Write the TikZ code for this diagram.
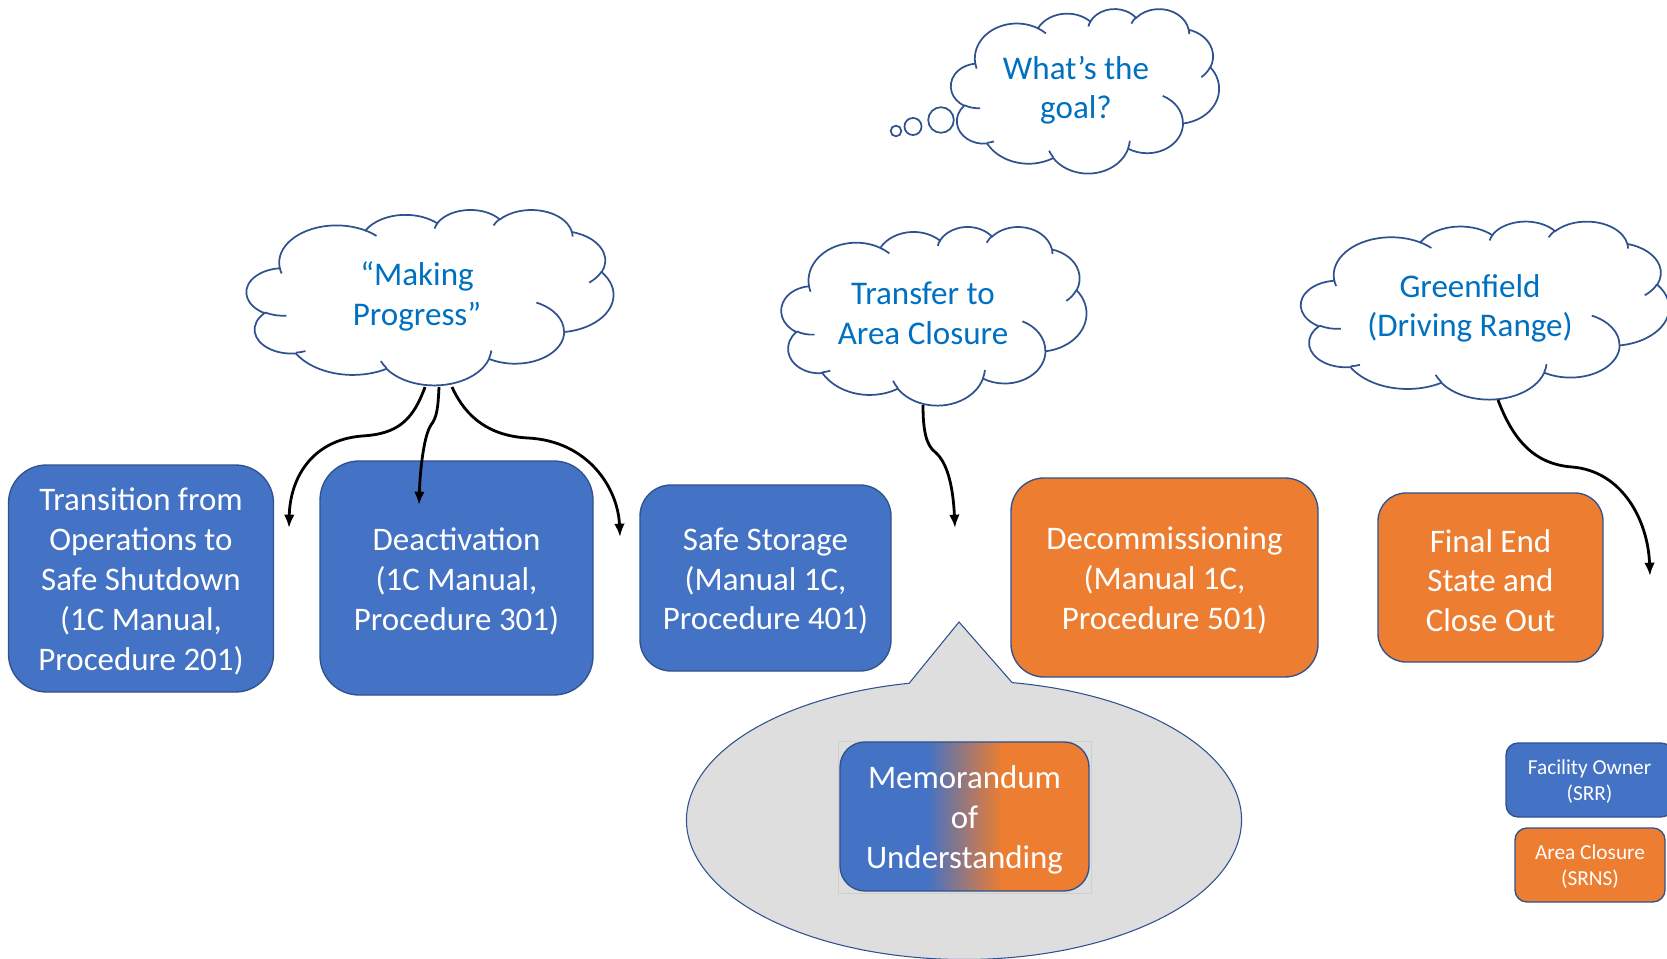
\documentclass[tikz,border=0pt]{standalone}
\usepackage{fontspec}
\setmainfont{Carlito}
\usetikzlibrary{arrows.meta}
\definecolor{boxblue}{HTML}{4472C4}
\definecolor{boxorange}{HTML}{ED7D31}
\definecolor{edge}{HTML}{2F528F}
\definecolor{cloudtext}{HTML}{0070C0}
\definecolor{calloutgray}{HTML}{DEDEDE}
\definecolor{framegray}{HTML}{CFCFCF}
\pgfdeclarehorizontalshading{memoshade}{100bp}{color(0bp)=(boxblue); color(42.5bp)=(boxblue); color(57.5bp)=(boxorange); color(100bp)=(boxorange)}
% OOXML-style arc: wR hR stAng swAng (visual angles, degrees)
\newcommand\ooarc[4]{%
  \pgfmathsetmacro\ooA{atan2((#1)*sin(#3),(#2)*cos(#3))}%
  \pgfmathsetmacro\ooB{atan2((#1)*sin((#3)+(#4)),(#2)*cos((#3)+(#4)))}%
  \pgfmathsetmacro\ooD{\ooB-\ooA}%
  \pgfmathsetmacro\ooD{\ooD-360*floor((\ooD-(#4)+180)/360)}%
  \pgfmathsetmacro\ooB{\ooA+\ooD}%
  \pgfpatharc{\ooA}{\ooB}{#1pt and #2pt}%
}
\newcommand\oomove[2]{\pgfpathmoveto{\pgfpoint{#1pt}{#2pt}}}
\newcommand\ppcloud[4]{% left top width height (px)
  \begin{scope}[shift={(#1,#2)},xscale={0.75*#3/432},yscale={-0.75*#4/432}]
    \begin{pgfscope}
      \pgfsetlinewidth{1.3pt}\pgfsetstrokecolor{edge}\pgfsetfillcolor{white}%
      \oomove{39.00}{143.70}%
      \ooarc{67.53}{91.90}{-190.48748}{123.78053}%
      \ooarc{53.33}{72.67}{-144.10238}{89.94523}%
      \ooarc{43.65}{59.45}{-145.80792}{99.72302}%
      \ooarc{48.57}{65.95}{-130.98607}{117.24173}%
      \ooarc{53.33}{72.73}{-78.70888}{109.02692}%
      \ooarc{67.75}{92.20}{-46.26725}{130.269}%
      \ooarc{57.85}{78.67}{0.62502}{114.03333}%
      \ooarc{67.52}{92.15}{22.4516}{115.17255}%
      \ooarc{77.20}{105.43}{66.24263}{75.71102}%
      \ooarc{43.60}{59.18}{-274.94208}{146.73557}%
      \ooarc{43.45}{59.45}{-246.8285}{152.51885}%
      \pgfpathclose
      \pgfusepath{fill,stroke}%
      \oomove{46.93}{261.77}\ooarc{43.45}{59.45}{86.742}{26.4295}%
      \oomove{69.28}{348.99}\ooarc{43.60}{59.18}{73.61047}{11.44747}%
      \oomove{164.78}{390.90}\ooarc{67.52}{92.15}{137.62415}{14.0811}%
      \oomove{288.27}{347.51}\ooarc{67.52}{92.15}{6.45327}{15.99835}%
      \oomove{341.29}{229.54}\ooarc{57.85}{78.67}{-70.29235}{70.91737}%
      \oomove{417.98}{153.54}\ooarc{53.33}{72.73}{30.31803}{27.7515}%
      \oomove{383.24}{54.26}\ooarc{48.57}{65.95}{-13.74433}{14.8589}%
      \oomove{290.78}{39.52}\ooarc{48.57}{65.95}{-149.18145}{18.19537}%
      \oomove{221.41}{47.20}\ooarc{43.65}{59.45}{-163.49427}{17.68635}%
      \oomove{140.00}{51.92}\ooarc{67.53}{91.90}{-66.70695}{12.31935}%
      \oomove{41.27}{157.89}\ooarc{67.53}{91.90}{157.65435}{11.85393}%
      \pgfusepath{stroke}%
    \end{pgfscope}
  \end{scope}
}
\tikzset{
  procbox/.style={draw=edge, line width=1pt, inner sep=0pt},
  bluebox/.style={procbox, fill=boxblue},
  orangebox/.style={procbox, fill=boxorange},
  boxtext/.style={text=white, align=center, inner sep=0pt,
    font=\fontsize{24.7}{29.9}\selectfont},
  legendtext/.style={text=white, align=center, inner sep=0pt,
    font=\fontsize{16}{19.2}\selectfont},
  cloudlabel/.style={text=cloudtext, align=center, inner sep=0pt,
    font=\fontsize{24.8}{29.6}\selectfont},
  bubble/.style={draw=edge, line width=1.3pt, fill=white},
  flow/.style={line width=2.1pt, -{Latex[length=10pt,width=8pt]}},
}
\begin{document}
\begin{tikzpicture}[x=0.75pt,y=-0.75pt]
\useasboundingbox (0,0) rectangle (1667,959);
\clip (0,0) rectangle (1667,959);

% clouds
\ppcloud{951}{8.5}{268}{164.5}
\ppcloud{246.6}{209.4}{366.8}{175.4}
\ppcloud{781.4}{226.4}{305}{178.6}
\ppcloud{1301}{221}{368}{178}
\draw[bubble] (896,131) circle[radius=4pt];
\draw[bubble] (913,126.5) circle[radius=6.4pt];
\draw[bubble] (941,120) circle[radius=9.6pt];

\node[cloudlabel] (goal) at (1076,90) {What’s the\\goal?};
\node[cloudlabel] (progress) at (417,296.5) {“Making\\Progress”};
\node[cloudlabel] (transfer) at (923,313.5) {Transfer to\\Area Closure};
\node[cloudlabel] (green) at (1470,308.5) {Greenfield\\(Driving Range)};

% stage boxes
\node[bluebox, minimum width=198.75pt, minimum height=170.25pt, rounded corners=28.5pt] (trans) at (141,578.5) {};
\node[boxtext] (transtxt) at ([yshift=-2.3pt]trans.center)
  {Transition from\\Operations to\\Safe Shutdown\\(1C Manual,\\Procedure 201)};
\node[bluebox, minimum width=204.75pt, minimum height=175.5pt, rounded corners=29.25pt] (deact) at (456.5,578) {};
\node[boxtext] (deacttxt) at ([yshift=-2.3pt]deact.center)
  {Deactivation\\(1C Manual,\\Procedure 301)};
\node[bluebox, minimum width=188.25pt, minimum height=139.5pt, rounded corners=23.25pt] (safe) at (765.5,578) {};
\node[boxtext] (safetxt) at ([yshift=-2.3pt]safe.center)
  {Safe Storage\\(Manual 1C,\\Procedure 401)};
\node[orangebox, minimum width=230.25pt, minimum height=149.25pt, rounded corners=24.75pt] (decom) at (1164.5,577.5) {};
\node[boxtext] (decomtxt) at ([yshift=-2.3pt]decom.center)
  {Decommissioning\\(Manual 1C,\\Procedure 501)};
\node[orangebox, minimum width=168.75pt, minimum height=126.75pt, rounded corners=21pt] (final) at (1490.5,577.5) {};
\node[boxtext] (finaltxt) at ([yshift=-2.3pt]final.center)
  {Final End\\State and\\Close Out};

% callout
\coordinate (ellc) at (964,820);
\coordinate (tip) at (959,622);
\draw[draw=edge, line width=0.8pt, fill=calloutgray]
  (ellc) ++(80:208.125pt and 104.625pt)
  arc[start angle=80, end angle=-258.6, x radius=208.125pt, y radius=104.625pt]
  -- (tip) -- cycle;
\draw[framegray, line width=0.5pt] (838,741) rectangle (1091,893);
\node[procbox, shade, shading=memoshade, minimum width=186.75pt, minimum height=111.75pt, rounded corners=18.75pt] (memo) at (964.5,816.5) {};
\node[boxtext] (memotxt) at ([yshift=-2.8pt]memo.center) {Memorandum\\of\\Understanding};

% legend
\node[bluebox, minimum width=125.25pt, minimum height=55.5pt, rounded corners=9pt] (owner) at (1589.5,780) {};
\node[legendtext] (ownertxt) at ([yshift=-1pt]owner.center) {Facility Owner\\(SRR)};
\node[orangebox, minimum width=112.5pt, minimum height=55.5pt, rounded corners=9pt] (closure) at (1590,865) {};
\node[legendtext] (closuretxt) at ([yshift=-1pt]closure.center) {Area Closure\\(SRNS)};

% arrows
\coordinate (p1) at (425,387); \coordinate (e1) at (289,528);
\coordinate (p2) at (439,387); \coordinate (e2) at (419,505);
\coordinate (p3) at (452,387); \coordinate (e3) at (620,537);
\coordinate (t1) at (923,405); \coordinate (e4) at (955,528);
\coordinate (g1) at (1498,400); \coordinate (e5) at (1650,576);
\draw[flow] (p1) .. controls (413,420) and (398,434) .. (362,436) .. controls (312,440) and (290,478) .. (e1);
\draw[flow] (p2) .. controls (438,408) and (437,417) .. (431,425) .. controls (424,435) and (420,470) .. (e2);
\draw[flow] (p3) .. controls (466,418) and (490,436) .. (528,438) .. controls (588,441) and (618,488) .. (e3);
\draw[flow] (t1) .. controls (923,430) and (926,445) .. (935,452) .. controls (947,462) and (953,485) .. (e4);
\draw[flow] (g1) .. controls (1512,437) and (1532,464) .. (1572,467) .. controls (1622,471) and (1648,520) .. (e5);
\end{tikzpicture}
\end{document}
